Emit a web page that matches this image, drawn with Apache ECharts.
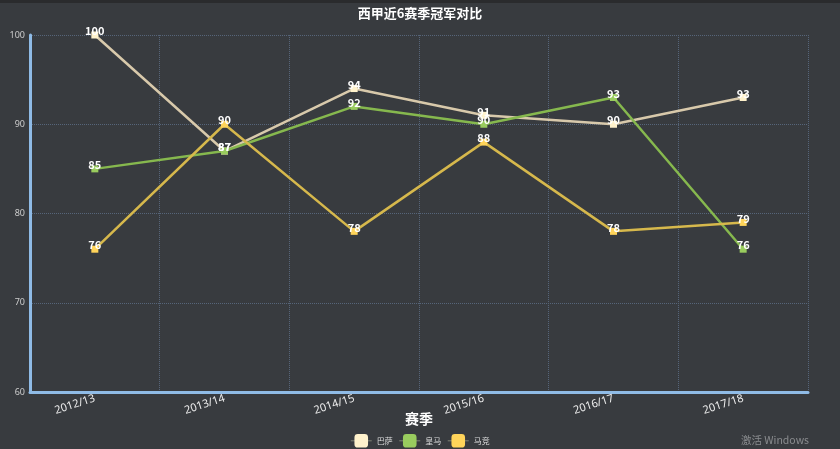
<!DOCTYPE html>
<html><head><meta charset="utf-8">
<script src="https://cdn.jsdelivr.net/npm/echarts@6/dist/echarts.min.js"></script>
<style>html,body{margin:0;padding:0;background:#383b3f;}#c{width:840px;height:449px;}</style>
</head><body><div id="c"></div>
<script>
const categories = ['2012/13','2013/14','2014/15','2015/16','2016/17','2017/18'];
const barca = [100, 87, 94, 91, 90, 93];
const realMadrid = [85, 87, 92, 90, 93, 76];
const atletico = [76, 90, 78, 88, 78, 79];
const seriesNames = ['巴萨','皇马','马竞'];

const chart = echarts.init(document.getElementById('c'));
function mk(name, data, lineColor, dotColor) {
  return {
    name, type: 'line',
    data: data.map(v => ({ value: v, symbol: 'rect' })),
    symbol: 'roundRect', symbolSize: 7,
    itemStyle: { color: dotColor },
    lineStyle: { color: lineColor, width: 2.5 },
    label: { show: true, position: 'top', distance: -5, color: '#fff', fontWeight: 'bold', fontSize: 11,
      fontFamily: 'Noto Sans CJK SC' },
    emphasis: { disabled: true }
  };
}
chart.setOption({
  backgroundColor: '#383b3f',
  animation: false,
  title: { text: '西甲近6赛季冠军对比', left: 'center', top: 2,
    textStyle: { color: '#fff', fontSize: 13, fontWeight: 'bold', fontFamily: 'Noto Sans CJK SC' } },
  legend: { top: 429, left: 'center', itemWidth: 21, itemHeight: 17, itemGap: 6,
    data: seriesNames,
    lineStyle: { width: 1, color: '#7f8275' },
    textStyle: { color: '#ddd', fontSize: 8, fontFamily: 'Noto Sans CJK SC' } },
  grid: { left: 30, right: 32, top: 35, bottom: 57, containLabel: false },
  xAxis: {
    type: 'category', data: categories, boundaryGap: true,
    name: '赛季', nameLocation: 'middle', nameGap: 20, nameMoveOverlap: false,
    nameTextStyle: { color: '#fff', fontSize: 14, fontWeight: 'bold', fontFamily: 'Noto Sans CJK SC' },
    axisLine: { lineStyle: { color: '#8fbbe6', width: 3 } },
    axisTick: { show: false },
    axisLabel: { color: '#eee', fontSize: 11, rotate: 18, margin: 6, fontFamily: 'Noto Sans' },
    splitLine: { show: true, lineStyle: { color: '#56657a', type: 'dotted', width: 1 } }
  },
  yAxis: {
    type: 'value', min: 60, max: 100, interval: 10,
    axisLine: { show: true, lineStyle: { color: '#8fbbe6', width: 3 } },
    axisTick: { show: false },
    axisLabel: { color: '#ccc', fontSize: 9, margin: 5, fontFamily: 'Noto Sans' },
    splitLine: { show: true, lineStyle: { color: '#56657a', type: 'dotted', width: 1 } }
  },
  graphic: [
    { type: 'rect', left: 0, top: 0, shape: { width: 840, height: 3 }, style: { fill: '#2a2b2d' } },
    { type: 'text', right: 31, bottom: 4, style: { text: '激活 Windows', fill: '#8a8c8f', fontSize: 10.5, fontFamily: 'Noto Sans CJK SC' } }
  ],
  series: [
    mk('巴萨', barca, '#d8c9ab', '#fff2cc'),
    mk('皇马', realMadrid, '#86b84e', '#99cc5e'),
    mk('马竞', atletico, '#d6b84c', '#ffd45a')
  ]
});
</script></body></html>
